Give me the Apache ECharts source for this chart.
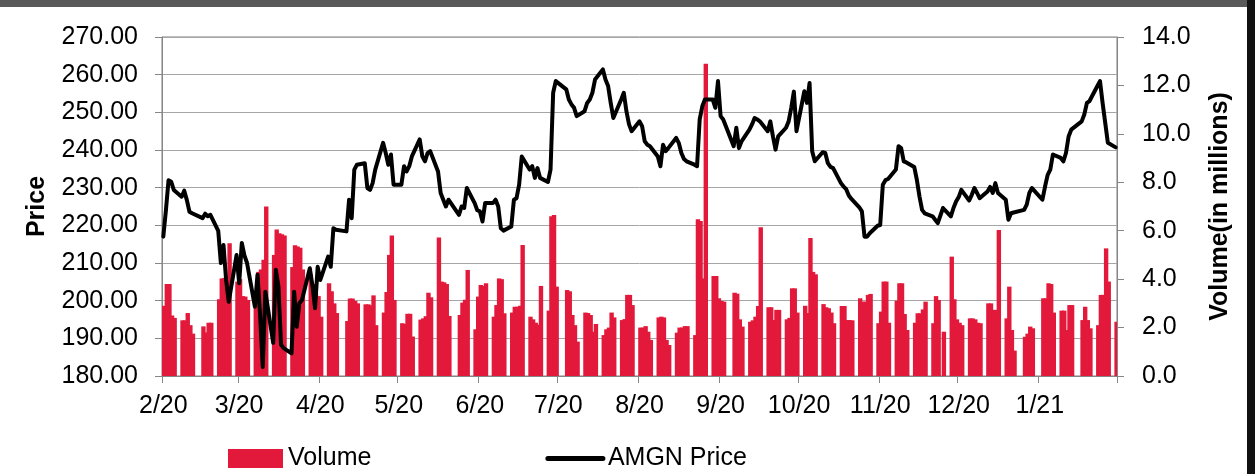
<!DOCTYPE html>
<html>
<head>
<meta charset="utf-8">
<script src="https://cdn.jsdelivr.net/npm/echarts@6/dist/echarts.min.js"></script>
<style>
html,body{margin:0;padding:0;background:#ffffff;}
#chart{width:1255px;height:474px;}
</style>
</head>
<body>
<div id="chart"></div>
<script>
// ---------- DATA ----------
const tradeDates = [
'2020-02-03','2020-02-04','2020-02-05','2020-02-06','2020-02-07','2020-02-10','2020-02-11','2020-02-12','2020-02-13','2020-02-14','2020-02-18','2020-02-19','2020-02-20','2020-02-21','2020-02-24','2020-02-25','2020-02-26','2020-02-27','2020-02-28',
'2020-03-02','2020-03-03','2020-03-04','2020-03-05','2020-03-06','2020-03-09','2020-03-10','2020-03-11','2020-03-12','2020-03-13','2020-03-16','2020-03-17','2020-03-18','2020-03-19','2020-03-20','2020-03-23','2020-03-24','2020-03-25','2020-03-26','2020-03-27','2020-03-30','2020-03-31',
'2020-04-01','2020-04-02','2020-04-03','2020-04-06','2020-04-07','2020-04-08','2020-04-09','2020-04-13','2020-04-14','2020-04-15','2020-04-16','2020-04-17','2020-04-20','2020-04-21','2020-04-22','2020-04-23','2020-04-24','2020-04-27','2020-04-28','2020-04-29','2020-04-30',
'2020-05-01','2020-05-04','2020-05-05','2020-05-06','2020-05-07','2020-05-08','2020-05-11','2020-05-12','2020-05-13','2020-05-14','2020-05-15','2020-05-18','2020-05-19','2020-05-20','2020-05-21','2020-05-22','2020-05-26','2020-05-27','2020-05-28','2020-05-29',
'2020-06-01','2020-06-02','2020-06-03','2020-06-04','2020-06-05','2020-06-08','2020-06-09','2020-06-10','2020-06-11','2020-06-12','2020-06-15','2020-06-16','2020-06-17','2020-06-18','2020-06-19','2020-06-22','2020-06-23','2020-06-24','2020-06-25','2020-06-26','2020-06-29','2020-06-30',
'2020-07-01','2020-07-02','2020-07-06','2020-07-07','2020-07-08','2020-07-09','2020-07-10','2020-07-13','2020-07-14','2020-07-15','2020-07-16','2020-07-17','2020-07-20','2020-07-21','2020-07-22','2020-07-23','2020-07-24','2020-07-27','2020-07-28','2020-07-29','2020-07-30','2020-07-31',
'2020-08-03','2020-08-04','2020-08-05','2020-08-06','2020-08-07','2020-08-10','2020-08-11','2020-08-12','2020-08-13','2020-08-14','2020-08-17','2020-08-18','2020-08-19','2020-08-20','2020-08-21','2020-08-24','2020-08-25','2020-08-26','2020-08-27','2020-08-28','2020-08-31',
'2020-09-01','2020-09-02','2020-09-03','2020-09-04','2020-09-08','2020-09-09','2020-09-10','2020-09-11','2020-09-14','2020-09-15','2020-09-16','2020-09-17','2020-09-18','2020-09-21','2020-09-22','2020-09-23','2020-09-24','2020-09-25','2020-09-28','2020-09-29','2020-09-30',
'2020-10-01','2020-10-02','2020-10-05','2020-10-06','2020-10-07','2020-10-08','2020-10-09','2020-10-12','2020-10-13','2020-10-14','2020-10-15','2020-10-16','2020-10-19','2020-10-20','2020-10-21','2020-10-22','2020-10-23','2020-10-26','2020-10-27','2020-10-28','2020-10-29','2020-10-30',
'2020-11-02','2020-11-03','2020-11-04','2020-11-05','2020-11-06','2020-11-09','2020-11-10','2020-11-11','2020-11-12','2020-11-13','2020-11-16','2020-11-17','2020-11-18','2020-11-19','2020-11-20','2020-11-23','2020-11-24','2020-11-25','2020-11-27','2020-11-30',
'2020-12-01','2020-12-02','2020-12-03','2020-12-04','2020-12-07','2020-12-08','2020-12-09','2020-12-10','2020-12-11','2020-12-14','2020-12-15','2020-12-16','2020-12-17','2020-12-18','2020-12-21','2020-12-22','2020-12-23','2020-12-24','2020-12-28','2020-12-29','2020-12-30','2020-12-31',
'2021-01-04','2021-01-05','2021-01-06','2021-01-07','2021-01-08','2021-01-11','2021-01-12','2021-01-13','2021-01-14','2021-01-15','2021-01-19','2021-01-20','2021-01-21','2021-01-22','2021-01-25','2021-01-26','2021-01-27','2021-01-28','2021-01-29',
'2021-02-01'
];

const volumeMillions = [
2.9,3.8,3.8,2.5,2.4,2.3,2.3,2.6,2.1,1.75,2.05,1.8,2.2,2.2,3.17,4.03,4.05,4.1,5.48,
3.9,4.0,3.3,3.28,3.14,3.0,4.3,4.4,4.8,7.0,5.0,6.05,5.9,5.85,5.8,4.5,5.4,5.35,5.3,4.4,4.2,3.8,
3.4,3.3,2.45,3.83,3.5,3.0,2.6,2.27,3.2,3.2,3.1,3.0,2.96,2.96,2.92,3.33,2.1,2.62,3.47,5.0,5.8,
3.14,2.18,2.15,2.57,2.57,1.63,2.33,2.38,2.47,3.44,3.25,5.72,3.9,3.87,3.8,2.48,2.52,3.03,3.15,4.38,
1.93,3.28,3.76,3.72,3.83,2.45,2.93,4.03,4.0,2.59,2.62,2.86,2.86,2.9,5.41,2.45,2.34,2.2,2.12,3.72,2.7,6.6,
6.65,3.69,3.55,3.5,2.52,2.1,1.42,2.62,2.6,2.52,1.83,2.15,1.69,1.93,2.0,2.62,2.42,2.31,2.35,3.35,3.35,2.93,
2.0,2.0,2.06,1.83,1.49,2.42,2.45,2.42,1.49,1.28,1.79,2.0,2.0,2.06,2.06,1.69,6.47,6.4,4.03,12.9,4.13,
4.13,3.21,3.1,3.07,3.44,3.4,2.34,2.04,2.24,2.3,2.45,2.89,6.14,2.84,2.84,2.31,2.73,2.73,2.34,2.4,3.62,
3.62,2.62,2.9,2.6,5.7,4.3,4.2,2.97,2.84,2.8,2.62,2.18,2.89,2.89,2.31,2.31,2.3,3.21,3.07,3.07,3.35,3.39,
2.18,2.66,3.9,3.9,2.2,3.11,3.83,3.83,2.56,1.9,2.2,2.59,2.59,2.75,3.07,2.18,3.3,3.14,1.83,4.93,
3.17,2.34,2.2,2.1,2.38,2.38,2.34,2.2,2.18,3.0,3.0,2.73,2.73,6.03,2.38,3.69,1.9,1.05,1.62,1.75,2.04,1.97,
3.21,3.21,3.83,3.8,2.62,2.7,2.7,1.9,2.93,2.93,2.31,2.86,2.31,1.97,2.1,3.35,3.35,5.27,3.9,
2.24
];

const amgnPrice = [
217,224,232,231.6,229.4,227.6,229.2,226.7,223.6,223.2,221.9,223.1,222.4,222.8,218.5,210,214.8,205.5,199.7,
212.1,204.6,215.3,212,210,198.4,206.9,196,182.4,202.4,188.8,208.2,203.8,188.3,187.4,186,202.4,193.1,199.3,200.2,208.6,204,
198,209,205.5,211.7,209,219.2,218.8,218.4,226.8,221.9,234.8,236.1,236.5,229.9,229.4,231.2,234.8,241.9,239.2,236.1,238.8,
230.8,230.8,235.7,234.3,235.7,238.3,242.8,238.3,237,239.2,239.7,234.3,228.6,226.8,225,226.8,222.8,225,224.6,229.9,
225.9,224,223.7,221,225.9,225.9,226.8,225,219.2,218.6,219.7,226.8,227.2,230.8,238.3,234.8,235.7,232.6,235.2,232.6,231.5,234.8,
255.2,258.3,256.1,253.4,252.1,251.2,249,250.3,252.5,253.4,255.2,258.7,261.4,258.7,257,252.5,248.5,253.4,255.2,250.3,246.8,245,
247.6,246.3,242.3,241.4,241,238.3,235.7,241.4,239.7,240.5,243.2,241.9,239.2,237.6,237,236.1,235.7,248.1,251.6,253.4,253.4,
251.2,258.3,249,248.1,241,245.9,240.5,242.3,245.4,246.8,248.5,248.1,247.6,245,247.6,243.6,240.1,243.6,245.9,247.6,251.2,
255.5,245,255.6,252.5,257.8,239.7,237,239.4,239.2,236.5,235.5,235.2,231.2,230.3,229.6,227.9,227,224.8,223.7,217,217,217.9,
219.9,220.1,230.8,232,232.3,234.8,241,240.5,237,236.7,235.5,232.1,227.7,224.1,223.2,222.4,221.5,220.6,224.6,222.4,
224.6,226.3,227.5,229.4,226.6,228.1,229.9,228.6,227.2,229,230.2,228.6,231.2,228.6,226.8,221.5,223.2,223.4,224.1,225.5,228.6,229.9,
226.8,230.3,233.4,234.8,238.8,237.9,237,239.2,243.6,245.4,247.6,249.4,252.5,253,257,258.3,252.5,247.2,241.9,
240.7
];

const tickDates  = ['2020-02-03','2020-03-03','2020-04-03','2020-05-03','2020-06-03','2020-07-03','2020-08-03','2020-09-03','2020-10-03','2020-11-03','2020-12-03','2021-01-03'];
const tickLabels = ['2/20','3/20','4/20','5/20','6/20','7/20','8/20','9/20','10/20','11/20','12/20','1/21'];

// ---------- build a calendar (date) category axis ----------
const DAY = 86400000;
function parseDay(s){const p=s.split('-').map(Number);return Date.UTC(p[0],p[1]-1,p[2]);}
function fmtDay(t){return new Date(t).toISOString().slice(0,10);}
const calendar = [];
for(let t=parseDay(tradeDates[0]); t<=parseDay(tradeDates[tradeDates.length-1]); t+=DAY) calendar.push(fmtDay(t));
const pos = {}; calendar.forEach((c,i)=>{pos[c]=i;});
const priceSeries = calendar.map(()=>null);
const volPoints = [];
tradeDates.forEach((d,i)=>{priceSeries[pos[d]]=amgnPrice[i]; volPoints.push([pos[d], volumeMillions[i]]);});
const isTick = (i,v)=>tickDates.indexOf(v)>=0;

const FONT = 'Liberation Sans, Arial, Helvetica, sans-serif';
const RED = '#e3193b';
const AXIS = '#868686';

const chart = echarts.init(document.getElementById('chart'), null, {renderer:'canvas'});
chart.setOption({
  animation:false,
  backgroundColor:'#ffffff',
  textStyle:{fontFamily:FONT},
  graphic:[
    {type:'rect', left:0, top:0, shape:{width:1255,height:7}, style:{fill:'#595959'}, z:100},
    {type:'rect', left:1247, top:0, shape:{width:8,height:474}, style:{fill:'#111111'}, z:100}
  ],
  grid:{left:162, right:138, top:37, bottom:98, show:true, borderColor:'#7f7f7f', borderWidth:1, backgroundColor:'transparent'},
  legend:{
    left:228, top:446, padding:0, itemWidth:55, itemHeight:19, itemGap:174,
    textStyle:{fontSize:25, color:'#000', fontFamily:FONT},
    data:[
      {name:'Volume', icon:'rect', itemStyle:{color:RED}},
      {name:'AMGN Price', itemStyle:{color:'rgba(0,0,0,0)', borderColor:'rgba(0,0,0,0)', borderWidth:0},
       lineStyle:{color:'#000', width:5, cap:'round'}}
    ]
  },
  xAxis:{
    type:'category', data:calendar, boundaryGap:true,
    axisLine:{lineStyle:{color:AXIS, width:1}},
    axisTick:{show:true, interval:isTick, length:7, lineStyle:{color:AXIS}},
    axisLabel:{interval:isTick, formatter:v=>tickLabels[tickDates.indexOf(v)], fontSize:25, color:'#000', fontFamily:FONT, margin:18},
    splitLine:{show:false}
  },
  yAxis:[
    {type:'value', position:'left', min:180, max:270, interval:10,
     name:'Price', nameLocation:'middle', nameGap:112,
     nameTextStyle:{fontSize:25, fontWeight:'bold', color:'#000', fontFamily:FONT},
     axisLine:{show:true, lineStyle:{color:AXIS}},
     axisTick:{show:true, length:7, lineStyle:{color:AXIS}},
     axisLabel:{formatter:v=>v.toFixed(2), fontSize:25, color:'#000', fontFamily:FONT, margin:24},
     splitLine:{show:true, lineStyle:{color:'#a6a6a6', width:1}}},
    {type:'value', position:'right', min:0, max:14, interval:2,
     name:'Volume(in millions)', nameLocation:'middle', nameGap:91,
     nameTextStyle:{fontSize:25, fontWeight:'bold', color:'#000', fontFamily:FONT},
     axisLine:{show:true, lineStyle:{color:AXIS}},
     axisTick:{show:true, length:7, lineStyle:{color:AXIS}},
     axisLabel:{formatter:v=>v.toFixed(1), fontSize:25, color:'#000', fontFamily:FONT, margin:25},
     splitLine:{show:false}}
  ],
  series:[
    {name:'Volume', type:'custom', yAxisIndex:1, data:volPoints, clip:true,
     itemStyle:{color:RED},
     encode:{x:0, y:1},
     renderItem:function(params, api){
       const c = api.value(0), v = api.value(1);
       const base = api.coord([c, 0]);
       const top = api.coord([c, v]);
       const bw = api.size([1, 0])[0];
       return {type:'rect',
         shape:{x: base[0] - bw/2, y: top[1], width: bw*1.68, height: base[1]-top[1]},
         style:{fill:RED}};
     }, z:2},
    {name:'AMGN Price', type:'line', yAxisIndex:0, data:priceSeries, connectNulls:true,
     symbol:'none', showSymbol:false,
     itemStyle:{color:'#000'},
     lineStyle:{color:'#000', width:4, join:'round', cap:'round'}, z:3}
  ]
});
</script>
</body>
</html>
